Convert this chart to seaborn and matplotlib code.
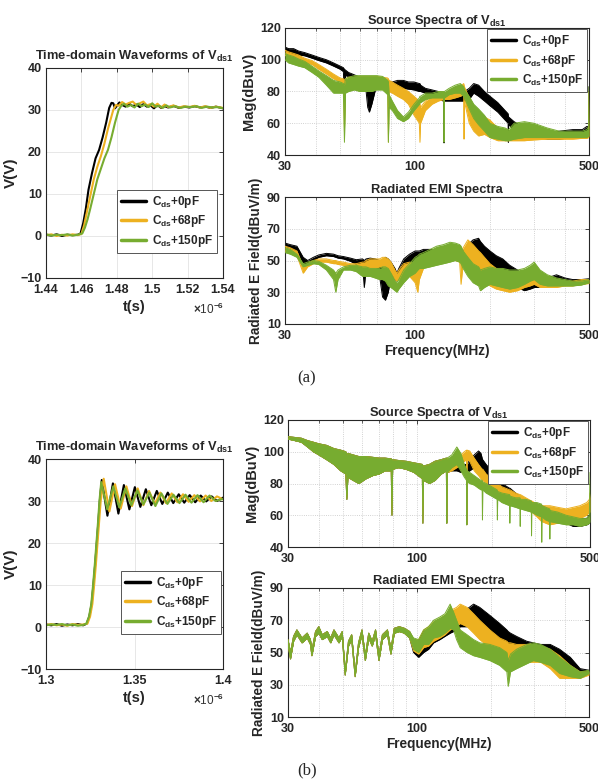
import matplotlib
matplotlib.use("Agg")
import matplotlib.pyplot as plt
from matplotlib.lines import Line2D
from matplotlib.ticker import FixedLocator, FixedFormatter, NullFormatter
import seaborn as sns

# ---------------- data ----------------
labels = [r"C$_{\mathbf{ds}}$+0pF", r"C$_{\mathbf{ds}}$+68pF", r"C$_{\mathbf{ds}}$+150pF"]
colors = ["#000000", "#EDB120", "#77AC30"]

# (a) time domain, t in 1e-6 s
a_t_black = [1.440, 1.443, 1.446, 1.449, 1.452, 1.455, 1.458, 1.4595, 1.461, 1.4625, 1.464, 1.466, 1.468,
             1.470, 1.472, 1.474, 1.4757, 1.4770, 1.4780, 1.4790, 1.4800, 1.4815, 1.483, 1.485, 1.487, 1.489,
             1.491, 1.493, 1.495, 1.497, 1.499, 1.501, 1.503, 1.505, 1.507, 1.509, 1.512, 1.515, 1.518, 1.521,
             1.524, 1.527, 1.530, 1.533, 1.536, 1.540]
a_v_black = [0.3, 0.1, 0.4, 0.0, 0.3, 0.2, 0.3, 0.6, 3.0, 6.5, 11.0, 15.0, 18.5, 20.5, 23.5, 27.0, 30.5, 31.7,
             31.6, 30.4, 31.0, 31.8, 31.2, 30.8, 31.5, 30.9, 31.3, 30.7, 31.4, 30.8, 31.1, 30.4, 31.2, 30.5,
             30.9, 30.6, 31.0, 30.5, 30.8, 30.6, 30.9, 30.6, 30.8, 30.5, 30.8, 30.4]
a_t_orange = [1.440, 1.443, 1.446, 1.449, 1.452, 1.455, 1.458, 1.4600, 1.4615, 1.463, 1.465, 1.467, 1.469,
              1.471, 1.473, 1.475, 1.477, 1.478, 1.4795, 1.481, 1.483, 1.485, 1.487, 1.489, 1.491, 1.493,
              1.495, 1.497, 1.499, 1.501, 1.503, 1.505, 1.507, 1.509, 1.512, 1.515, 1.518, 1.521, 1.524,
              1.527, 1.530, 1.533, 1.536, 1.540]
a_v_orange = [0.2, 0.4, 0.0, 0.3, 0.1, 0.4, 0.2, 0.5, 2.5, 5.5, 9.5, 13.5, 16.5, 19.0, 22.0, 25.5, 28.5, 30.0,
              31.2, 31.0, 31.9, 31.3, 31.7, 32.0, 31.2, 31.6, 32.0, 31.1, 31.4, 30.8, 31.5, 30.6, 31.3, 30.7,
              31.1, 30.6, 30.9, 30.7, 31.0, 30.6, 30.9, 30.5, 30.8, 30.5]
a_t_green = [1.440, 1.443, 1.446, 1.449, 1.452, 1.455, 1.458, 1.4605, 1.462, 1.4635, 1.465, 1.467, 1.469,
             1.471, 1.473, 1.475, 1.477, 1.479, 1.481, 1.4825, 1.484, 1.486, 1.488, 1.490, 1.492, 1.494,
             1.496, 1.498, 1.500, 1.502, 1.504, 1.506, 1.508, 1.510, 1.513, 1.516, 1.519, 1.522, 1.525,
             1.528, 1.531, 1.534, 1.537, 1.540]
a_v_green = [0.4, 0.1, 0.3, 0.2, 0.4, 0.1, 0.3, 0.6, 2.0, 4.0, 6.5, 10.0, 13.5, 16.0, 18.5, 20.5, 23.5, 27.0,
             30.0, 31.0, 31.5, 30.8, 31.2, 30.6, 31.5, 30.9, 31.3, 30.7, 31.6, 30.8, 31.0, 30.5, 31.1, 30.6,
             30.9, 30.5, 30.8, 30.7, 30.9, 30.5, 30.8, 30.6, 30.7, 30.4]

# (b) time domain
b_t_black = [1.300, 1.303, 1.306, 1.309, 1.312, 1.315, 1.318, 1.321, 1.3230, 1.3245, 1.3258, 1.3268, 1.3278,
             1.3287, 1.3296, 1.3304, 1.3315, 1.3347, 1.3378, 1.3409, 1.3440, 1.3471, 1.3502, 1.3533, 1.3564,
             1.3595, 1.3626, 1.3657, 1.3688, 1.3719, 1.3750, 1.3781, 1.3812, 1.3843, 1.3874, 1.3905, 1.3936,
             1.3967, 1.4000]
b_v_black = [0.6, 0.4, 0.7, 0.3, 0.6, 0.4, 0.7, 0.4, 0.8, 2.5, 5.5, 10.0, 15.0, 20.0, 25.0, 30.0, 35.0,
             26.5, 34.2, 27.0, 33.8, 28.0, 33.3, 28.6, 32.8, 29.0, 32.4, 29.3, 32.0, 29.5, 31.6, 29.6, 31.4,
             29.7, 31.3, 29.9, 31.1, 30.0, 30.8]
b_t_orange = [1.300, 1.303, 1.306, 1.309, 1.312, 1.315, 1.318, 1.321, 1.3234, 1.3249, 1.3262, 1.3272, 1.3282,
              1.3291, 1.3300, 1.3309, 1.3326, 1.3358, 1.3390, 1.3422, 1.3454, 1.3486, 1.3518, 1.3550, 1.3582,
              1.3614, 1.3646, 1.3678, 1.3710, 1.3742, 1.3774, 1.3806, 1.3838, 1.3870, 1.3902, 1.3934, 1.3966,
              1.4000]
b_v_orange = [0.5, 0.7, 0.4, 0.6, 0.3, 0.7, 0.5, 0.6, 0.8, 2.5, 5.5, 10.0, 15.0, 20.0, 25.0, 30.0, 35.3,
              27.5, 34.0, 28.2, 33.5, 28.8, 33.0, 29.0, 32.4, 29.3, 32.0, 29.5, 31.8, 29.7, 31.6, 29.8, 31.4,
              29.9, 31.3, 30.0, 31.1, 30.4]
b_t_green = [1.300, 1.303, 1.306, 1.309, 1.312, 1.315, 1.318, 1.321, 1.3228, 1.3243, 1.3256, 1.3266, 1.3276,
             1.3285, 1.3294, 1.3302, 1.3312, 1.3346, 1.3380, 1.3414, 1.3448, 1.3482, 1.3516, 1.3550, 1.3584,
             1.3618, 1.3652, 1.3686, 1.3720, 1.3754, 1.3788, 1.3822, 1.3856, 1.3890, 1.3924, 1.3958, 1.4000]
b_v_green = [0.4, 0.6, 0.5, 0.7, 0.4, 0.6, 0.3, 0.5, 0.8, 2.5, 5.5, 10.0, 15.0, 20.0, 25.0, 30.0, 34.5,
             28.0, 33.5, 28.5, 33.0, 29.0, 32.5, 29.2, 32.0, 28.8, 31.8, 29.3, 31.5, 29.5, 31.5, 29.6, 31.4,
             29.7, 31.3, 30.0, 30.5]

# (a) source spectra (MHz, dBuV) : upper / lower envelope of the dense trace
a_src_f = [30, 31, 32.5, 34, 36, 38.5, 41, 44, 47, 50,
           51.5, 52, 52.5, 54, 57, 60, 63, 64.5, 65.5, 67,
           70, 74, 77.6, 78.1, 78.6, 81, 85, 89.7, 94, 99,
           104, 104.6, 105.2, 110, 117, 124, 130.2, 130.7, 131.2, 137,
           145, 152, 156.8, 157.3, 157.8, 165, 172, 180, 190, 200,
           215, 230, 236.5, 237, 237.5, 250, 275, 300, 340, 380,
           430, 470, 490, 498, 500]
a_src_black_hi = [108, 107, 107, 105.5, 104.5, 103, 101.5, 100, 98, 96,
                  95, 94, 93.5, 92, 90.5, 89, 88, 88, 87.5, 87,
                  86.5, 86, 86, 86, 86, 86, 87, 87, 86, 86,
                  85, 85, 84, 82, 81, 80, 79, 79, 79, 80,
                  79, 78, 79, 80, 80, 82, 85, 84, 80, 77,
                  73, 68, 66, 64, 64, 61, 57, 55, 54, 55,
                  56, 56, 58, 58, 83]
a_src_black_lo = [105, 104, 103.5, 103, 102.5, 101, 99.5, 98, 96, 94,
                  92.5, 75, 90, 89.5, 88, 87, 86, 70, 67, 72,
                  84, 84, 84, 83, 83, 82, 82, 82, 81.5, 81,
                  80, 80, 80, 79, 77, 75, 74, 47.6, 74, 74,
                  74, 74, 74, 74, 74, 75, 79, 77, 74, 71,
                  67, 62, 60, 48, 59, 56, 53, 51, 50, 50,
                  51, 52, 51, 52, 52]
a_src_orange_hi = [106, 105, 104, 103, 101, 99.5, 97, 94, 91, 88.5,
                   88, 87, 88, 89, 89, 89.5, 89.5, 89.5, 89.5, 89.5,
                   89.5, 89, 88.5, 88, 87, 86, 84, 82, 80, 77,
                   74, 72, 70, 74, 77, 79, 79, 79, 79, 80,
                   81, 83, 85, 84, 83, 76, 68, 62, 64, 62,
                   57, 54, 53, 53, 53, 53, 52, 52, 52, 53,
                   53, 53, 54, 56, 80]
a_src_orange_lo = [103, 101, 100, 99.5, 98.5, 97, 94, 91, 88, 86,
                   85, 55, 82, 82, 82, 82, 82, 82, 82, 82,
                   82, 82, 82, 48, 80, 79, 77, 75, 72, 65,
                   60, 48, 60, 68, 72, 74, 75, 74, 75, 75,
                   76, 77, 78, 50, 74, 60, 55, 52, 53, 51,
                   49, 49, 49, 49, 49, 49, 49, 49.5, 50, 50,
                   50, 50.5, 50.5, 51, 52]
a_src_green_hi = [104, 103, 102, 100.5, 99, 96, 93, 90, 87, 86,
                  85, 84, 88, 89, 90, 90, 90, 90, 90, 90,
                  90, 89.5, 87, 86, 78, 74, 68, 64, 67, 72,
                  76, 77, 77, 79, 79, 80, 80, 80, 80, 82,
                  84, 85, 83, 82, 81, 77, 72, 69, 65, 60,
                  58, 57, 56, 56, 56, 60, 61, 60, 57, 55,
                  55, 55, 56, 58, 83]
a_src_green_lo = [100, 98, 97, 96, 95, 92, 89, 84, 79, 79,
                  79, 48, 79, 80, 81, 80, 80, 80, 80, 80,
                  81, 81, 78, 48, 70, 68, 63, 61, 63, 68,
                  72, 73, 73, 75, 76, 76, 76, 48, 76, 78,
                  79, 79, 77, 76, 76, 69, 63, 59, 55, 51,
                  50, 49, 49, 49, 49, 50, 51, 51, 51, 51,
                  51, 51, 51, 52, 52]

# (a) radiated EMI (MHz, dBuV/m)
a_rad_f = [30, 31.5, 33.5, 35.5, 37, 39, 41, 44, 47, 48,
           49, 51.5, 55, 58, 61.5, 62.5, 63.5, 66, 69, 72,
           74, 76, 78, 80, 83, 84.5, 86, 90, 95, 100,
           102.5, 104, 108, 115, 122, 130, 138, 145, 151, 153,
           156, 163, 171, 180, 183, 190, 200, 212, 225, 240,
           258, 275, 290, 301, 318, 340, 370, 400, 430, 465,
           500]
a_rad_black_hi = [61, 60, 59, 52, 50, 52, 53.5, 54.5, 54, 53.5,
                  53, 52.5, 51.5, 50.5, 51, 50, 51, 51.5, 51, 50,
                  50, 52, 51, 49, 45, 42, 45, 51, 54, 56,
                  56, 56, 57, 57, 56, 55, 54, 53, 54, 55,
                  56, 60, 63, 64, 62, 59, 56, 53, 51, 47,
                  44, 40, 40, 39, 38, 39, 41, 39, 38, 38,
                  38.5]
a_rad_black_lo = [58, 57, 56, 47, 48, 50, 52, 53, 52.5, 52,
                  51.5, 51, 49.5, 47.5, 46, 33, 45, 46, 45, 40,
                  27, 25, 30, 40, 38, 37, 40, 44, 46, 47,
                  48, 49, 51, 52, 52, 52, 51, 51, 51, 52,
                  52, 53, 55, 56, 54, 48, 44, 42, 40, 37,
                  33, 31, 32, 33, 33, 34, 35, 35, 35, 35.5,
                  36]
a_rad_orange_hi = [59, 58, 56, 46, 48, 50, 51, 51, 50, 50,
                   49.5, 49, 48, 48, 49, 49, 50, 51, 51, 51,
                   52, 52, 51, 49, 44, 42, 44, 48, 49, 48,
                   47, 50, 53, 55, 56, 56, 54, 53, 53, 52,
                   58, 63, 60, 56, 55, 52, 48, 45, 43, 42,
                   42, 41, 42, 41, 40, 39, 38, 37, 37, 38,
                   38]
a_rad_orange_lo = [56, 55, 53, 42, 46, 48, 49, 49, 48, 48,
                   47.5, 47, 45, 44, 44, 43, 44, 44, 45, 46,
                   46, 45, 44, 42, 38, 37, 38, 40, 40, 36,
                   30, 38, 45, 50, 52, 51, 51, 50, 49, 35,
                   48, 52, 48, 44, 42, 38, 34, 32, 31, 30,
                   31, 33, 34, 35, 33, 33, 33, 34, 34, 35,
                   35.5]
a_rad_green_hi = [58, 57, 54, 48, 49, 50, 49.5, 47, 44, 42,
                  44, 46, 47, 47, 46, 46, 46, 45, 45, 45,
                  46, 46, 45, 42, 37, 36, 38, 44, 48, 52,
                  53, 54, 55, 57, 59, 60, 61.5, 61, 60, 59,
                  56, 52, 48, 46, 44, 45, 46, 45, 45, 44,
                  44, 45, 47, 49, 44, 41, 39, 38, 37, 37,
                  38]
a_rad_green_lo = [55, 54, 52, 46, 47, 48, 47.5, 44, 38, 30,
                  38, 44, 44, 43, 40, 40, 40, 40, 39, 38,
                  38, 37, 34, 33, 31, 30, 32, 36, 40, 42,
                  44, 45, 45, 46, 47, 48, 49, 50, 49, 48,
                  45, 40, 36, 34, 31, 33, 35, 34, 33, 32,
                  33, 35, 37, 38, 35, 34, 34, 34, 34, 34.5,
                  36]

# (b) source spectra
b_src_f = [30, 32, 34, 36, 38, 40, 43, 46, 49, 51.4,
           51.9, 52.4, 55, 58, 62, 66, 70, 74, 78.5, 79,
           79.5, 84, 90, 97, 104.9, 105.4, 105.9, 112, 118, 125,
           131.2, 131.7, 132.2, 138, 144.6, 150, 155, 158.2, 158.7, 159.2,
           163, 170, 177, 181, 183.1, 183.6, 184.1, 190, 200, 210.5,
           211, 211.5, 220, 236.5, 237, 237.5, 250, 260.5, 261, 261.5,
           275, 289.5, 290, 290.5, 305, 318.5, 319, 319.5, 331, 343.5,
           344, 344.5, 370, 400, 427, 455, 485, 497, 500]
b_src_common_hi = [109.5, 109, 108.5, 107, 106, 105, 104, 102, 101, 100,
                   98, 99, 98, 97, 97, 96.5, 96, 96, 95.5, 95,
                   95, 94.5, 94, 93, 92, 91, 91, 92, 94, 95,
                   96, 95, 96]
b_src_common_lo = [108, 107, 106, 103, 100, 98, 95, 92, 88, 86,
                   70, 84, 82, 80, 83, 85, 86, 88, 88, 60,
                   89, 90, 89, 87, 83, 55, 82, 80, 82, 86,
                   88, 55, 87]
b_src_black_tail_hi = [92, 92, 91, 92, 92, 91, 92, 95, 98, 100.5,
                       99, 96, 95, 95, 92, 88, 83, 83, 83, 80,
                       77, 77, 77, 74, 72, 72, 72, 70, 68, 68,
                       68, 67, 66, 66, 66, 65, 64, 64, 64, 62,
                       60, 58, 58, 58, 60, 62]
b_src_black_tail_lo = [88, 88, 87, 88, 88, 54, 87, 88, 90, 92,
                       88, 86, 86, 85, 83, 80, 78, 78, 78, 76,
                       73, 73, 73, 70, 68, 68, 68, 66, 63, 63,
                       63, 62, 60, 60, 60, 59, 58, 58, 58, 57,
                       55, 53, 53, 54, 55, 56]
b_src_orange_tail_hi = [94, 96, 98, 100, 101, 100, 101, 100.5, 96, 92,
                        90, 89, 89, 89, 86, 83, 80, 80, 80, 78,
                        76, 76, 76, 74, 73, 73, 73, 71, 69, 69,
                        69, 67, 66, 66, 66, 66, 66, 66, 66, 65,
                        64, 65, 66, 68, 70, 74]
b_src_orange_tail_lo = [88, 90, 92, 94, 95, 54, 95, 94, 88, 85,
                        83, 82, 82, 82, 80, 77, 75, 75, 75, 73,
                        70, 70, 70, 68, 66, 66, 66, 64, 62, 62,
                        62, 59, 56, 56, 56, 55, 54, 54, 54, 55,
                        55, 56, 58, 60, 62, 62]
b_src_green_tail_hi = [98, 103, 99, 92, 89, 88, 88, 87, 85, 83,
                       82, 82, 81, 81, 80, 78, 76, 75, 75, 74,
                       73, 72, 72, 71, 71, 70, 70, 70, 69, 68,
                       68, 68, 67, 66, 66, 65, 64, 63, 63, 62,
                       60, 59, 58, 58, 60, 87]
b_src_green_tail_lo = [90, 92, 88, 84, 82, 54, 81, 80, 79, 77,
                       76, 76, 57, 76, 74, 72, 70, 57, 70, 68,
                       66, 55, 66, 65, 64, 53, 64, 63, 62, 47,
                       62, 60, 59, 43, 59, 57, 56, 45, 56, 55,
                       54, 54, 53, 54, 55, 56]

# (b) radiated EMI
b_rad_f = [30, 30.7, 31.6, 32.6, 34.2, 35.9, 37, 37.5, 38.8, 40,
           41.3, 43.3, 44.7, 46.1, 48.3, 49.8, 51.2, 52.8, 54.4, 56.2,
           58, 59.9, 61.8, 63.8, 65.9, 68, 70.2, 72.5, 76, 78.5,
           81, 84.9, 89, 93.5, 97, 101.7, 106.6, 111.6, 117, 124,
           130, 136.5, 141, 145, 150, 160, 170, 180, 198, 217,
           232, 235, 240, 254, 279, 297, 318, 348, 380, 420,
           460, 500]
b_rad_common_hi = [58, 50, 60, 64, 59, 62, 58, 51, 63, 66,
                   61, 63, 59, 64, 59, 63, 38, 57, 61, 37,
                   56, 64, 48, 62, 57, 64, 48, 61, 64, 52,
                   65, 66, 65, 63]
b_rad_common_lo = [55, 46, 57, 61, 56, 59, 55, 48, 60, 62,
                   58, 60, 56, 61, 56, 60, 36, 54, 58, 35,
                   53, 61, 45, 59, 54, 61, 45, 58, 61, 49,
                   62, 63, 62, 59]
b_rad_black_tail_hi = [58, 57, 63, 65, 68, 70, 71, 72, 73, 75, 76, 77, 80, 78, 73, 68, 64, 63, 62, 60,
                       57, 56, 55, 55, 52, 47, 40, 39]
b_rad_black_tail_lo = [50, 47, 50, 52, 56, 58, 60, 62, 63, 64, 66, 66, 68, 67, 62, 57, 53, 52, 51, 48,
                       45, 45, 46, 46, 44, 40, 36, 37]
b_rad_orange_tail_hi = [58, 58, 64, 66, 69, 71, 73, 76, 77, 78, 80, 78, 74, 70, 64, 59, 57, 56, 56, 55,
                        55, 55, 54, 52, 48, 42, 38, 38]
b_rad_orange_tail_lo = [51, 49, 53, 54, 57, 59, 61, 64, 65, 66, 68, 66, 62, 58, 53, 48, 45, 44, 45, 44,
                        44, 44, 44, 40, 34, 34, 34, 36]
b_rad_green_tail_hi = [59, 58, 64, 66, 70, 72, 74, 80, 75, 70, 64, 61, 58, 56, 55, 53, 50, 45, 49, 52,
                       55, 56, 55, 52, 47, 42, 38, 39]
b_rad_green_tail_lo = [52, 50, 55, 55, 59, 60, 62, 65, 64, 58, 53, 50, 48, 47, 45, 42, 38, 29, 38, 40,
                       43, 45, 44, 42, 37, 35, 34, 37]

# ---------------- style ----------------
sns.set_theme(style="white")
plt.rcParams["font.family"] = ["Liberation Sans", "DejaVu Sans"]
plt.rcParams.update({
    "font.weight": "bold",
    "axes.labelweight": "bold",
    "axes.titleweight": "bold",
    "mathtext.fontset": "custom",
    "mathtext.rm": "Liberation Sans:bold",
    "mathtext.bf": "Liberation Sans:bold",
    "mathtext.it": "Liberation Sans:bold",
    "mathtext.default": "rm",
    "axes.edgecolor": "#262626",
    "axes.linewidth": 0.8,
})

W, H = 598, 783
fig = plt.figure(figsize=(W / 100, H / 100), dpi=100)

TICK_FS = 9
LEG_FS = 8.5
TITLE_FS = 9.3


def px_axes(x0, y0, x1, y1):
    return fig.add_axes([x0 / W, 1 - y1 / H, (x1 - x0) / W, (y1 - y0) / H])


def base_style(ax):
    ax.tick_params(direction="in", top=True, right=True, length=3, width=0.6,
                   labelsize=TICK_FS, colors="#262626", which="major")
    ax.tick_params(axis="x", pad=4, which="major")
    ax.tick_params(axis="y", pad=3, which="major")
    ax.tick_params(direction="in", top=True, right=True, length=1.8, width=0.5, which="minor")
    for lab in ax.get_xticklabels() + ax.get_yticklabels():
        lab.set_fontweight("bold")
    for s in ax.spines.values():
        s.set_linewidth(0.8)
        s.set_color("#262626")


def make_legend(ax, loc, anchor):
    handles = [Line2D([], [], color=c, lw=2.5) for c in colors]
    leg = ax.legend(handles, labels, loc=loc, bbox_to_anchor=anchor, borderaxespad=0,
                    fontsize=LEG_FS, frameon=True, fancybox=False, framealpha=1, edgecolor="#555555",
                    handlelength=2.1, handletextpad=0.5, labelspacing=0.3, borderpad=0.35)
    leg.get_frame().set_linewidth(0.7)
    leg.set_zorder(10)
    for txt in leg.get_texts():
        txt.set_fontweight("bold")


def time_panel(ax, series, xlim, xticks, xticklabels, legend_anchor):
    for (t, v), c in zip(series, colors):
        sns.lineplot(x=t, y=v, ax=ax, color=c, lw=1.5, estimator=None, sort=False, legend=False)
    ax.set_xlim(*xlim)
    ax.set_ylim(-10, 40)
    ax.set_xticks(xticks)
    ax.set_xticklabels(xticklabels)
    ax.set_yticks([-10, 0, 10, 20, 30, 40])
    ax.grid(True, color="#e3e3e3", lw=0.6, ls="-")
    ax.set_axisbelow(True)
    ax.set_title(r"Time-domain Waveforms of V$_{\mathbf{ds1}}$", fontsize=TITLE_FS, pad=5.5)
    ax.set_xlabel("t(s)", fontsize=10.5, labelpad=3)
    ax.set_ylabel("V(V)", fontsize=11, labelpad=2)
    ax.text(1.005, -0.15, r"$\times$10$^{-6}$", transform=ax.transAxes, ha="right", va="center",
            fontsize=8.5, color="#333333", fontweight="normal")
    base_style(ax)
    make_legend(ax, "lower right", legend_anchor)


def spec_panel(ax, f, his, los, ylim, yticks, title, ylabel, xlabel=None, legend_anchor=None, ylabel_fs=10):
    for z, (hi, lo, c) in enumerate(zip(his, los, colors)):
        ax.fill_between(f, lo, hi, color=c, lw=0, zorder=2 + z)
        sns.lineplot(x=f, y=hi, ax=ax, color=c, lw=0.7, estimator=None, sort=False, legend=False, zorder=2 + z)
        sns.lineplot(x=f, y=lo, ax=ax, color=c, lw=0.7, estimator=None, sort=False, legend=False, zorder=2 + z)
    ax.set_xscale("log")
    ax.set_xlim(30, 500)
    ax.set_ylim(*ylim)
    ax.xaxis.set_major_locator(FixedLocator([30, 100, 500]))
    ax.xaxis.set_major_formatter(FixedFormatter(["30", "100", "500"]))
    ax.xaxis.set_minor_locator(FixedLocator([40, 50, 60, 70, 80, 90, 200, 300, 400]))
    ax.xaxis.set_minor_formatter(NullFormatter())
    ax.set_yticks(yticks)
    ax.grid(True, which="both", axis="x", color="#c4c4c4", lw=0.6, ls=":")
    ax.grid(True, which="major", axis="y", color="#c4c4c4", lw=0.6, ls=":")
    ax.set_axisbelow(True)
    ax.set_title(title, fontsize=TITLE_FS, pad=3)
    ax.set_ylabel(ylabel, fontsize=ylabel_fs, labelpad=3)
    ax.set_xlabel(xlabel if xlabel else "", fontsize=9.8, labelpad=2)
    base_style(ax)
    if legend_anchor is not None:
        make_legend(ax, "upper right", legend_anchor)


# ---------------- (a) ----------------
axA1 = px_axes(46, 68, 223, 278)
time_panel(axA1, [(a_t_black, a_v_black), (a_t_orange, a_v_orange), (a_t_green, a_v_green)],
           (1.44, 1.54), [1.44, 1.46, 1.48, 1.50, 1.52, 1.54],
           ["1.44", "1.46", "1.48", "1.5", "1.52", "1.54"], (0.966, 0.119))

axA2 = px_axes(285, 28, 589, 155)
spec_panel(axA2, a_src_f, [a_src_black_hi, a_src_orange_hi, a_src_green_hi],
           [a_src_black_lo, a_src_orange_lo, a_src_green_lo], (40, 120), [40, 60, 80, 100, 120],
           r"Source Spectra of V$_{\mathbf{ds1}}$", "Mag(dBuV)", legend_anchor=(0.993, 0.992), ylabel_fs=10.5)

axA3 = px_axes(285, 197, 589, 324)
spec_panel(axA3, a_rad_f, [a_rad_black_hi, a_rad_orange_hi, a_rad_green_hi],
           [a_rad_black_lo, a_rad_orange_lo, a_rad_green_lo], (10, 90), [10, 30, 50, 70, 90],
           "Radiated EMI Spectra", "Radiated E Field(dBuV/m)", xlabel="Frequency(MHz)", ylabel_fs=9.8)

# ---------------- (b) ----------------
axB1 = px_axes(46, 459, 223, 669)
time_panel(axB1, [(b_t_black, b_v_black), (b_t_orange, b_v_orange), (b_t_green, b_v_green)],
           (1.30, 1.40), [1.30, 1.35, 1.40], ["1.3", "1.35", "1.4"], (0.989, 0.167))

axB2 = px_axes(288, 420, 590, 547)
spec_panel(axB2, b_src_f,
           [b_src_common_hi + b_src_black_tail_hi, b_src_common_hi + b_src_orange_tail_hi,
            b_src_common_hi + b_src_green_tail_hi],
           [b_src_common_lo + b_src_black_tail_lo, b_src_common_lo + b_src_orange_tail_lo,
            b_src_common_lo + b_src_green_tail_lo],
           (40, 120), [40, 60, 80, 100, 120],
           r"Source Spectra of V$_{\mathbf{ds1}}$", "Mag(dBuV)", legend_anchor=(0.993, 0.992), ylabel_fs=10.5)

axB3 = px_axes(288, 588, 589, 717)
spec_panel(axB3, b_rad_f,
           [b_rad_common_hi + b_rad_black_tail_hi, b_rad_common_hi + b_rad_orange_tail_hi,
            b_rad_common_hi + b_rad_green_tail_hi],
           [b_rad_common_lo + b_rad_black_tail_lo, b_rad_common_lo + b_rad_orange_tail_lo,
            b_rad_common_lo + b_rad_green_tail_lo],
           (10, 90), [10, 30, 50, 70, 90],
           "Radiated EMI Spectra", "Radiated E Field(dBuV/m)", xlabel="Frequency(MHz)", ylabel_fs=9.8)

fig.text(307 / W, 1 - 378 / H, "(a)", ha="center", va="center", fontsize=12,
         family=["Liberation Serif", "DejaVu Serif"], fontweight="normal")
fig.text(307 / W, 1 - 770 / H, "(b)", ha="center", va="center", fontsize=12,
         family=["Liberation Serif", "DejaVu Serif"], fontweight="normal")

fig.savefig("out.png", dpi=100)
